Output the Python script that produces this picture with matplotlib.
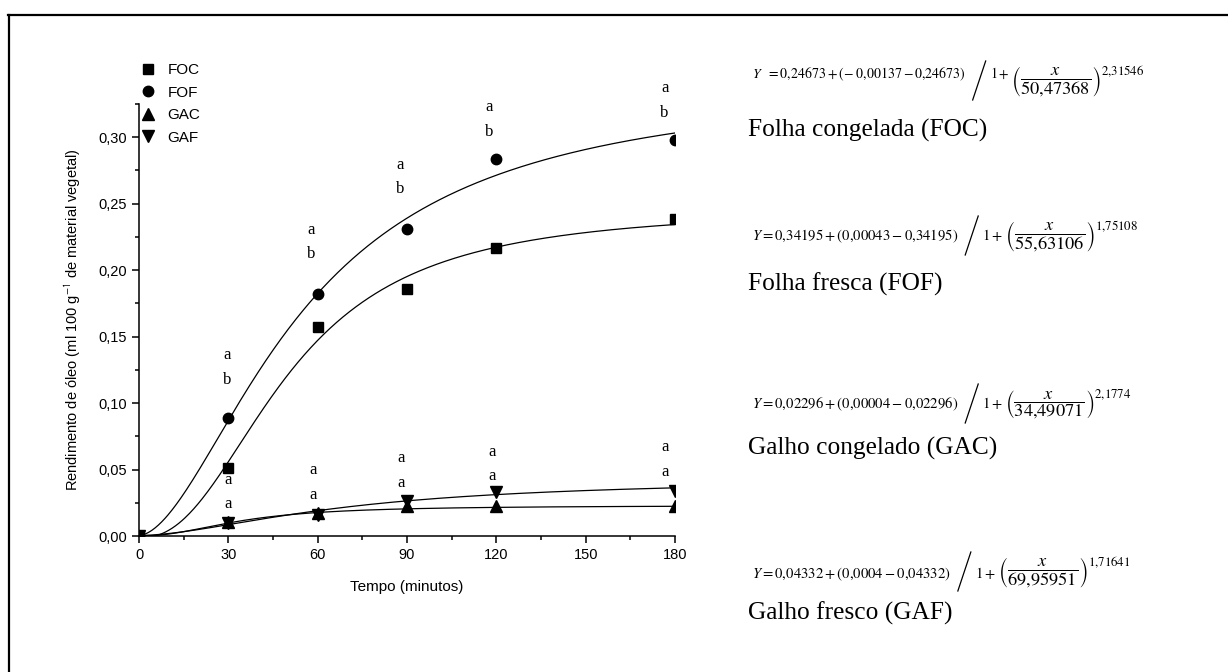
import numpy as np
import matplotlib
matplotlib.use("Agg")
import matplotlib.pyplot as plt
from matplotlib.lines import Line2D
from matplotlib.ticker import MultipleLocator, FuncFormatter

# ---------------- data ----------------
tempo = [0, 30, 60, 90, 120, 180]
foc = [0.0, 0.0513, 0.1575, 0.1855, 0.2168, 0.2385]
fof = [0.0, 0.0885, 0.1820, 0.2310, 0.2835, 0.2980]
gac = [0.0, 0.0105, 0.0175, 0.0222, 0.0222, 0.0222]
gaf = [0.0, 0.0095, 0.0160, 0.0260, 0.0328, 0.0335]

series_names = ["FOC", "FOF", "GAC", "GAF"]
# fitted logistic parameters: A2, A1, x0, p   ->  Y = A2 + (A1 - A2)/(1 + (x/x0)^p)
fit_A2 = [0.24673, 0.34195, 0.02296, 0.04332]
fit_A1 = [-0.00137, 0.00043, 0.00004, 0.0004]
fit_x0 = [50.47368, 55.63106, 34.49071, 69.95951]
fit_p = [2.31546, 1.75108, 2.1774, 1.71641]

full_names = ["Folha congelada (FOC)", "Folha fresca (FOF)",
              "Galho congelado (GAC)", "Galho fresco (GAF)"]
eq_main = [
    r"$Y\ \ =0{,}24673+(-\ 0{,}00137-0{,}24673)$",
    r"$Y=0{,}34195+(0{,}00043-0{,}34195)$",
    r"$Y=0{,}02296+(0{,}00004-0{,}02296)$",
    r"$Y=0{,}04332+(0{,}0004-0{,}04332)$",
]
eq_frac = [
    r"$\left(\dfrac{x}{50{,}47368}\right)^{2{,}31546}$",
    r"$\left(\dfrac{x}{55{,}63106}\right)^{1{,}75108}$",
    r"$\left(\dfrac{x}{34{,}49071}\right)^{2{,}1774}$",
    r"$\left(\dfrac{x}{69{,}95951}\right)^{1{,}71641}$",
]

# significance letters (upper group: FOC vs FOF, lower group: GAC vs GAF)
letters_top = ["a", "b"]
letters_bot = ["a", "a"]
letter_x = [30, 60, 90, 120, 180]
top_a_y = [0.136, 0.2305, 0.279, 0.323, 0.337]
top_b_y = [0.117, 0.212, 0.261, 0.304, 0.318]
bot_a_y = [0.042, 0.050, 0.059, 0.063, 0.067]
bot_b_y = [0.024, 0.031, 0.040, 0.045, 0.048]
top_dx = [-0.5, -2.3, -2.3, -2.3, -3.5]
bot_dx = [0.0, -1.5, -2.0, -1.5, -3.5]

# ---------------- figure ----------------
plt.rcParams["mathtext.fontset"] = "stix"
W, H = 1228, 672
fig = plt.figure(figsize=(W / 100, H / 100), dpi=100)
fig.patch.set_facecolor("white")

ax = fig.add_axes([139 / W, 1 - 536 / H, (675 - 139) / W, (536 - 104) / H])

sans = "Liberation Sans"
serif = "Liberation Serif"

markers = ["s", "o", "^", "v"]
msizes = [6.5, 7.5, 8, 8]
values = [foc, fof, gac, gaf]

xs = np.linspace(0, 180, 500)
handles = []
for i, vals in enumerate(values):
    A2, A1, x0, p = fit_A2[i], fit_A1[i], fit_x0[i], fit_p[i]
    yfit = A2 + (A1 - A2) / (1 + (xs / x0) ** p)
    ax.plot(xs, yfit, color="black", lw=0.9, zorder=2)
    ax.plot(tempo, vals, linestyle="none", marker=markers[i], ms=msizes[i],
            color="black", zorder=3)
    handles.append(Line2D([], [], linestyle="none", marker=markers[i],
                          ms=msizes[i], color="black"))

for j, xv in enumerate(letter_x):
    for yy, lt in ((top_a_y[j], letters_top[0]), (top_b_y[j], letters_top[1])):
        ax.text(xv + top_dx[j], yy, lt, family=serif, fontsize=12,
                ha="center", va="center", clip_on=False)
    for yy, lt in ((bot_a_y[j], letters_bot[0]), (bot_b_y[j], letters_bot[1])):
        ax.text(xv + bot_dx[j], yy, lt, family=serif, fontsize=12,
                ha="center", va="center", clip_on=False)

ax.set_xlim(0, 180)
ax.set_ylim(0, 0.325)
ax.xaxis.set_major_locator(MultipleLocator(30))
ax.xaxis.set_minor_locator(MultipleLocator(15))
ax.yaxis.set_major_locator(MultipleLocator(0.05))
ax.yaxis.set_minor_locator(MultipleLocator(0.025))
ax.yaxis.set_major_formatter(FuncFormatter(lambda v, pos: f"{v:.2f}".replace(".", ",")))
for s in ["top", "right"]:
    ax.spines[s].set_visible(False)
for s in ["left", "bottom"]:
    ax.spines[s].set_linewidth(1.1)
ax.tick_params(which="major", direction="out", length=5, width=1.1, labelsize=10.5)
ax.tick_params(which="minor", direction="out", length=3, width=1.1)
for lab in ax.get_xticklabels() + ax.get_yticklabels():
    lab.set_family(sans)

ax.set_xlabel("Tempo (minutos)", family=sans, fontsize=11, labelpad=13)
ax.set_ylabel(r"Rendimento de óleo (ml 100 g$^{\mathsf{-1}}$ de material vegetal)",
              family=sans, fontsize=10.5, labelpad=11)

ax.legend(handles, series_names, loc="upper left",
          bbox_to_anchor=(140 / W, 1 - 63 / H), bbox_transform=fig.transFigure,
          frameon=False, handlelength=1.0, handletextpad=0.8, labelspacing=0.56,
          prop={"family": sans, "size": 11}, borderpad=0, borderaxespad=0)

# right-hand equations (built piecewise) and names
renderer = fig.canvas.get_renderer()
eq_base = [78, 240, 408, 578]      # baseline of main row (px from top)
frac_bot = [99, 254, 422, 590]     # bottom of fraction parentheses (px from top)
main_size = [10.0, 10.6, 10.6, 10.6]
frac_size = 13.2
name_y = [130, 284, 448, 613]
for i in range(4):
    tA = fig.text(752 / W, 1 - eq_base[i] / H, eq_main[i], fontsize=main_size[i],
                  ha="left", va="baseline")
    xa = tA.get_window_extent(renderer).x1
    sb = frac_bot[i] + 1
    fig.add_artist(Line2D([(xa + 7) / W, (xa + 20) / W], [1 - sb / H, 1 - (sb - 39) / H],
                          transform=fig.transFigure, color="black", lw=0.9))
    tB = fig.text((xa + 24) / W, 1 - eq_base[i] / H, r"$1+$", fontsize=main_size[i],
                  ha="left", va="baseline")
    xb = tB.get_window_extent(renderer).x1
    fig.text((xb + 2) / W, 1 - frac_bot[i] / H, eq_frac[i], fontsize=frac_size,
             ha="left", va="bottom")
    fig.text(748 / W, 1 - name_y[i] / H, full_names[i], family=serif, fontsize=18.3,
             ha="left", va="center")

# outer frame (left and top edges visible)
fig.add_artist(Line2D([8.5 / W, 8.5 / W], [0, 1 - 14.5 / H], transform=fig.transFigure,
                      color="black", lw=1.6))
fig.add_artist(Line2D([7.7 / W, 1], [1 - 14.5 / H, 1 - 14.5 / H], transform=fig.transFigure,
                      color="black", lw=1.6))

fig.savefig("out.png", dpi=100, facecolor="white")
